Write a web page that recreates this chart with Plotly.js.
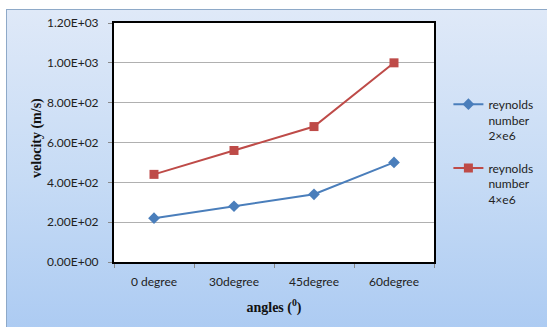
<!DOCTYPE html>
<html>
<head>
<meta charset="utf-8">
<script src="https://cdn.plot.ly/plotly-3.0.1.min.js"></script>
<style>
html,body{margin:0;padding:0;width:547px;height:327px;overflow:hidden;background:#ffffff;}
#frame{position:absolute;left:6px;top:9px;width:560px;height:340px;border:1px solid #8ea9c8;
background:linear-gradient(to bottom,#dfe9f8 0%,#c6dbf5 50%,#a9c9f2 100%);}
#chart{position:absolute;left:0;top:0;width:547px;height:327px;}
</style>
</head>
<body>
<div id="frame"></div>
<div id="chart"></div>
<script>
const categories = ["0 degree", "30degree", "45degree", "60degree"];
const seriesNames = ["reynolds<br>number<br>2×e6", "reynolds<br>number<br>4×e6"];
const re2e6 = [220, 280, 340, 500];
const re4e6 = [440, 560, 680, 1000];
const yTickVals = [0, 200, 400, 600, 800, 1000, 1200];
const yTickText = ["0.00E+00", "2.00E+02", "4.00E+02", "6.00E+02", "8.00E+02", "1.00E+03", "1.20E+03"];
const yTitle = 'velocity (m/s)';
const xTitle = 'angles (<sup>0</sup>)';

const traces = [
  {x: categories, y: re2e6, name: seriesNames[0], legendgroup: 'a', type: 'scatter', mode: 'lines+markers',
   line: {color: '#4a7ebb', width: 2}, marker: {symbol: 'diamond', size: 9, color: '#4a7ebb'}},
  {x: categories, y: re4e6, name: seriesNames[1], legendgroup: 'b', type: 'scatter', mode: 'lines+markers',
   line: {color: '#be4b48', width: 2}, marker: {symbol: 'square', size: 9, color: '#be4b48'}}
];

const layout = {
  width: 547, height: 327,
  margin: {l: 114, r: 113, t: 23, b: 65, autoexpand: false},
  paper_bgcolor: 'rgba(0,0,0,0)',
  plot_bgcolor: '#ffffff',
  font: {family: 'Lato, "Liberation Sans", sans-serif', size: 12, color: '#222'},
  showlegend: true,
  legend: {x: 1.045, xanchor: 'left', y: 0.72, yanchor: 'top', bgcolor: 'rgba(0,0,0,0)', valign: 'top',
           font: {family: 'Lato, sans-serif', size: 12, color: '#222'}, itemwidth: 30, tracegroupgap: 14},
  xaxis: {
    type: 'category', range: [-0.5, 3.5], tickson: 'boundaries', ticks: 'outside', ticklen: 4,
    tickcolor: '#888', showgrid: false, showline: true, linecolor: '#000', linewidth: 2, mirror: true,
    ticklabelstandoff: 8,
    tickfont: {family: 'Lato, sans-serif', size: 12, color: '#222'},
    title: {text: xTitle, font: {family: '"Liberation Serif", serif', size: 14, color: '#111', weight: 'bold'}, standoff: 14}
  },
  yaxis: {
    range: [0, 1200], tickvals: yTickVals, ticktext: yTickText, ticks: 'outside', ticklen: 4,
    tickcolor: '#888', showgrid: true, gridcolor: '#b0b0b0', gridwidth: 1, zeroline: false,
    showline: true, linecolor: '#000', linewidth: 2, mirror: true,
    ticklabelstandoff: 7,
    tickfont: {family: 'Lato, sans-serif', size: 12, color: '#222'}
  },
  annotations: [{
    text: yTitle, xref: 'paper', yref: 'paper', x: -0.24, y: 0.52, xanchor: 'center', yanchor: 'middle',
    textangle: -90, showarrow: false,
    font: {family: '"Liberation Serif", serif', size: 14, color: '#111', weight: 'bold'}
  }]
};

Plotly.newPlot('chart', traces, layout, {displayModeBar: false, staticPlot: true});
</script>
</body>
</html>
